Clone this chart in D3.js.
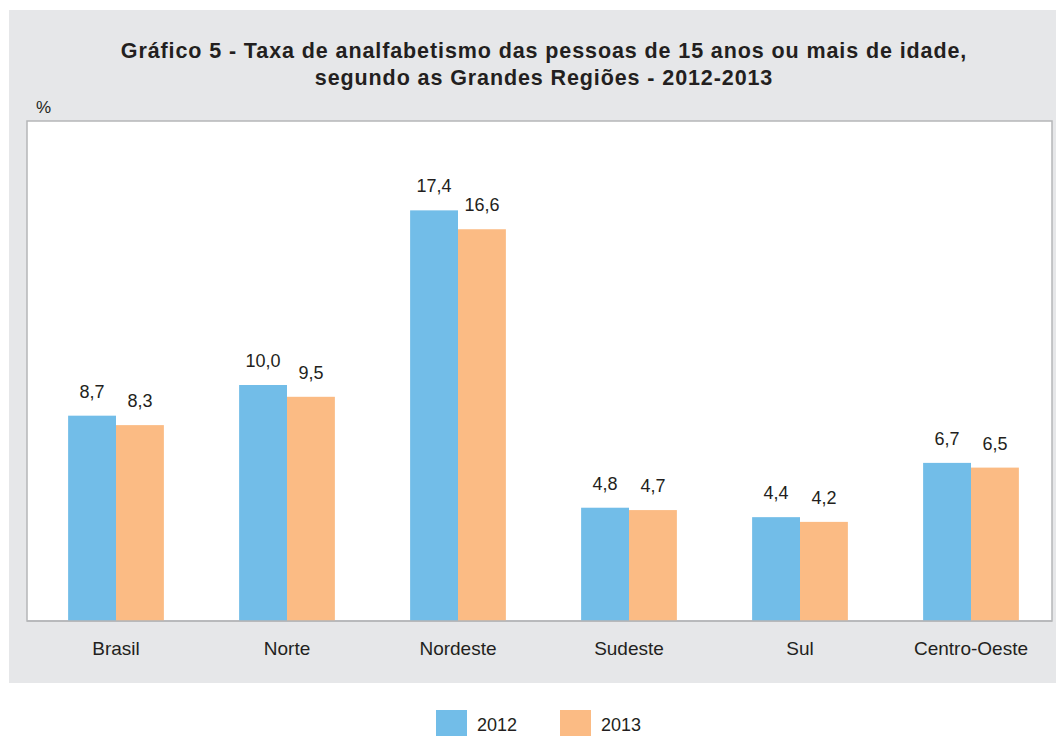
<!DOCTYPE html>
<html>
<head>
<meta charset="utf-8">
<script src="https://cdn.jsdelivr.net/npm/d3@7"></script>
<style>
  body { margin: 0; background: #fff; }
  svg { display: block; font-family: "Liberation Sans", Arial, sans-serif; }
</style>
</head>
<body>
<svg id="grafico" width="1056" height="736"></svg>
<script>
// Dados do gráfico
var regioes = ["Brasil", "Norte", "Nordeste", "Sudeste", "Sul", "Centro-Oeste"];
var anos = ["2012", "2013"];
var taxa2012 = [8.7, 10.0, 17.4, 4.8, 4.4, 6.7];
var taxa2013 = [8.3, 9.5, 16.6, 4.7, 4.2, 6.5];
var cores = ["#72bde8", "#fbbb84"];

var svg = d3.select("#grafico");
var corTexto = "#231f20";

// Fundo cinza do painel
svg.append("rect")
    .attr("x", 9).attr("y", 10)
    .attr("width", 1047).attr("height", 673)
    .attr("fill", "#e6e7e9");

// Título
var titulo = svg.append("text")
    .attr("text-anchor", "middle")
    .attr("font-weight", "bold")
    .attr("font-size", 21.5)
    .attr("letter-spacing", 0.9)
    .attr("fill", corTexto);
titulo.append("tspan").attr("x", 544).attr("y", 58)
    .text("Gráfico 5 - Taxa de analfabetismo das pessoas de 15 anos ou mais de idade,");
titulo.append("tspan").attr("x", 544).attr("y", 85)
    .text("segundo as Grandes Regiões - 2012-2013");

svg.append("text")
    .attr("x", 36).attr("y", 113)
    .attr("font-size", 17)
    .attr("fill", corTexto)
    .text("%");

// Área do gráfico
var topo = 121, base = 621, esq = 27, dir = 1052;
svg.append("rect")
    .attr("x", esq).attr("y", topo)
    .attr("width", dir - esq).attr("height", base - topo)
    .attr("fill", "#fff")
    .attr("stroke", "#b5b6b8")
    .attr("stroke-width", 1.5);

var x = d3.scaleBand()
    .domain(regioes)
    .range([30.5, 1056.5])
    .paddingInner(0.44)
    .paddingOuter(0.22);

var xAno = d3.scaleBand()
    .domain(anos)
    .range([0, x.bandwidth()]);

var y = d3.scaleLinear()
    .domain([0, (base - topo) / 23.6])
    .range([base, topo]);

var dados = regioes.map(function (r, i) {
    return { regiao: r, valores: [taxa2012[i], taxa2013[i]] };
});

var grupos = svg.selectAll("g.grupo")
    .data(dados)
    .enter().append("g")
    .attr("class", "grupo")
    .attr("transform", d => "translate(" + x(d.regiao) + ",0)");

var barras = grupos.selectAll("g.barra")
    .data(d => d.valores.map((v, j) => ({ ano: anos[j], valor: v, j: j })))
    .enter().append("g")
    .attr("class", "barra");

barras.append("rect")
    .attr("x", d => xAno(d.ano))
    .attr("y", d => y(d.valor))
    .attr("width", xAno.bandwidth())
    .attr("height", d => base - y(d.valor))
    .attr("fill", d => cores[d.j]);

barras.append("text")
    .attr("x", d => xAno(d.ano) + xAno.bandwidth() / 2)
    .attr("y", d => y(d.valor) - 18)
    .attr("text-anchor", "middle")
    .attr("font-size", 18)
    .attr("fill", corTexto)
    .text(d => d.valor.toFixed(1).replace(".", ","));

// redesenha a borda inferior sobre as barras
svg.append("line")
    .attr("x1", esq).attr("x2", dir)
    .attr("y1", base).attr("y2", base)
    .attr("stroke", "#b5b6b8")
    .attr("stroke-width", 1.5);

// Rótulos das categorias
svg.selectAll("text.cat")
    .data(regioes)
    .enter().append("text")
    .attr("class", "cat")
    .attr("x", d => x(d) + x.bandwidth() / 2)
    .attr("y", 655)
    .attr("text-anchor", "middle")
    .attr("font-size", 19)
    .attr("fill", corTexto)
    .text(d => d);

// Legenda
var legX = [436, 560];
var legenda = svg.selectAll("g.leg")
    .data(anos)
    .enter().append("g")
    .attr("class", "leg")
    .attr("transform", (d, i) => "translate(" + legX[i] + ",710)");

legenda.append("rect")
    .attr("width", 31).attr("height", 26)
    .attr("fill", (d, i) => cores[i]);

legenda.append("text")
    .attr("x", 41).attr("y", 21)
    .attr("font-size", 18)
    .attr("fill", corTexto)
    .text(d => d);
</script>
</body>
</html>
